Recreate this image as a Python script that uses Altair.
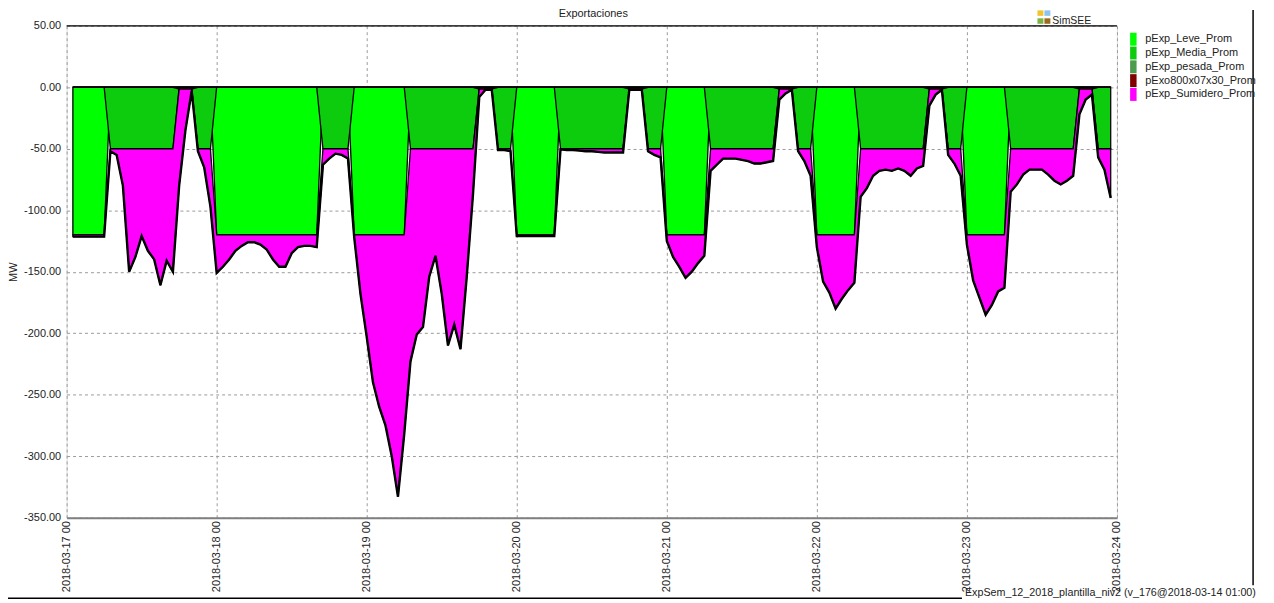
import altair as alt
import pandas as pd

# ---------------- data (hourly, 2018-03-17 01:00 .. 2018-03-23 23:00)
hours = list(range(1, 168))

x_labels = ["2018-03-17 00", "2018-03-18 00", "2018-03-19 00", "2018-03-20 00",
            "2018-03-21 00", "2018-03-22 00", "2018-03-23 00", "2018-03-24 00"]
x_ticks = [0, 24, 48, 72, 96, 120, 144, 168]
y_ticks = [50, 0, -50, -100, -150, -200, -250, -300, -350]

series = ["pExp_Leve_Prom", "pExp_Media_Prom", "pExp_pesada_Prom",
          "pExo800x07x30_Prom", "pExp_Sumidero_Prom"]
colors = ["#00FF00", "#0DCC0D", "#4C9A4C", "#800000", "#FF00FF"]

leve = (
    [-120, -120, -120, -120, -120, -120, 0, 0, 0, 0, 0, 0, 0, 0, 0, 0, 0, 0, 0, 0, 0, 0, 0]
    + [-120, -120, -120, -120, -120, -120, -120, -120, -120, -120, -120, -120, -120, -120, -120, -120, -120, 0, 0, 0, 0, 0, -120, -120]
    + [-120, -120, -120, -120, -120, -120, -120, 0, 0, 0, 0, 0, 0, 0, 0, 0, 0, 0, 0, 0, 0, 0, 0, 0]
    + [-120, -120, -120, -120, -120, -120, -120, 0, 0, 0, 0, 0, 0, 0, 0, 0, 0, 0, 0, 0, 0, 0, 0, 0]
    + [-120, -120, -120, -120, -120, -120, -120, 0, 0, 0, 0, 0, 0, 0, 0, 0, 0, 0, 0, 0, 0, 0, 0, 0]
    + [-120, -120, -120, -120, -120, -120, -120, 0, 0, 0, 0, 0, 0, 0, 0, 0, 0, 0, 0, 0, 0, 0, 0, 0]
    + [-120, -120, -120, -120, -120, -120, -120, 0, 0, 0, 0, 0, 0, 0, 0, 0, 0, 0, 0, 0, 0, 0, 0, 0]
)
media = (
    [0, 0, 0, 0, 0, 0, -50, -50, -50, -50, -50, -50, -50, -50, -50, -50, -50, 0, 0, 0, -50, -50, -50]
    + [0, 0, 0, 0, 0, 0, 0, 0, 0, 0, 0, 0, 0, 0, 0, 0, 0, -50, -50, -50, -50, -50, 0, 0]
    + [0, 0, 0, 0, 0, 0, 0, -50, -50, -50, -50, -50, -50, -50, -50, -50, -50, -50, 0, 0, 0, -50, -50, -50]
    + [0, 0, 0, 0, 0, 0, 0, -50, -50, -50, -50, -50, -50, -50, -50, -50, -50, -50, 0, 0, 0, -50, -50, -50]
    + [0, 0, 0, 0, 0, 0, 0, -50, -50, -50, -50, -50, -50, -50, -50, -50, -50, -50, 0, 0, 0, -50, -50, -50]
    + [0, 0, 0, 0, 0, 0, 0, -50, -50, -50, -50, -50, -50, -50, -50, -50, -50, -50, 0, 0, 0, -50, -50, -50]
    + [0, 0, 0, 0, 0, 0, 0, -50, -50, -50, -50, -50, -50, -50, -50, -50, -50, -50, 0, 0, 0, -50, -50, -50]
)
pesada = (
    [0, 0, 0, 0, 0, 0, 0, 0, 0, 0, 0, 0, 0, 0, 0, 0, 0, 0, 0, 0, 0, 0, 0]
    + [0, 0, 0, 0, 0, 0, 0, 0, 0, 0, 0, 0, 0, 0, 0, 0, 0, 0, 0, 0, 0, 0, 0, 0]
    + [0, 0, 0, 0, 0, 0, 0, 0, 0, 0, 0, 0, 0, 0, 0, 0, 0, 0, 0, 0, 0, 0, 0, 0]
    + [0, 0, 0, 0, 0, 0, 0, 0, 0, 0, 0, 0, 0, 0, 0, 0, 0, 0, 0, 0, 0, 0, 0, 0]
    + [0, 0, 0, 0, 0, 0, 0, 0, 0, 0, 0, 0, 0, 0, 0, 0, 0, 0, 0, 0, 0, 0, 0, 0]
    + [0, 0, 0, 0, 0, 0, 0, 0, 0, 0, 0, 0, 0, 0, 0, 0, 0, 0, 0, 0, 0, 0, 0, 0]
    + [0, 0, 0, 0, 0, 0, 0, 0, 0, 0, 0, 0, 0, 0, 0, 0, 0, 0, 0, 0, 0, 0, 0, 0]
)
pexo = (
    [0, 0, 0, 0, 0, 0, 0, 0, 0, 0, 0, 0, 0, 0, 0, 0, 0, -1.5, -1.5, -1.5, 0, 0, 0]
    + [0, 0, 0, 0, 0, 0, 0, 0, 0, 0, 0, 0, 0, 0, 0, 0, 0, 0, 0, 0, 0, 0, 0, 0]
    + [0, 0, 0, 0, 0, 0, 0, 0, 0, 0, 0, 0, 0, 0, 0, 0, 0, 0, -1.5, -1.5, -1.5, 0, 0, 0]
    + [0, 0, 0, 0, 0, 0, 0, 0, 0, 0, 0, 0, 0, 0, 0, 0, 0, 0, -1.5, -1.5, -1.5, 0, 0, 0]
    + [0, 0, 0, 0, 0, 0, 0, 0, 0, 0, 0, 0, 0, 0, 0, 0, 0, 0, -1.5, -1.5, -1.5, 0, 0, 0]
    + [0, 0, 0, 0, 0, 0, 0, 0, 0, 0, 0, 0, 0, 0, 0, 0, 0, 0, -1.5, -1.5, -1.5, 0, 0, 0]
    + [0, 0, 0, 0, 0, 0, 0, 0, 0, 0, 0, 0, 0, 0, 0, 0, 0, 0, -1.5, -1.5, -1.5, 0, 0, 0]
)
sumidero = (
    [-1.5, -1.5, -1.5, -1.5, -1.5, -1.5, -2, -5, -30, -100, -88, -71, -83, -90, -111, -91, -100,
     -78.5, -33.5, -1.5, -2, -15, -47]
    + [-31, -26, -20, -13, -9, -6, -6, -8, -12, -20, -26, -26, -15, -10, -9, -9, -10,
       -13, -8, -4, -5, -8, -2, -48]
    + [-83, -120, -140, -155, -180, -213, -162, -173, -151, -145, -104, -87, -118, -160, -143, -163,
       -104, -37, -6.5, -0.5, -0.5, -1, -1, -2]
    + [-1, -1, -1, -1, -1, -1, -1, -0.5, -1, -1, -1.5, -2, -2, -2.5, -3, -3, -3, -3,
       -0.5, -0.5, -0.5, -2, -5, -7]
    + [-5, -18, -26, -35, -30, -23, -17, -18, -13, -8, -8, -8, -9, -10, -12, -12, -11, -10,
       -8.5, -3.5, -0.5, -2, -10, -22]
    + [-10, -38, -47, -60, -52, -45, -39, -39, -32, -22, -18, -17, -18, -16, -18, -22, -16, -14,
       -13.5, -4.5, -0.5, -5, -12, -22]
    + [-8, -37, -51, -65, -57, -46, -43, -35, -29, -21, -17, -17, -17, -21, -26, -29, -26, -22,
       -20.5, -8.5, -4.5, -7, -17, -40]
)

# ---------------- tables
cols = [leve, media, pesada, pexo, sumidero]
rows = []
for k, (name, vals) in enumerate(zip(series, cols)):
    for h, v in zip(hours, vals):
        rows.append({"h": h, "serie": name, "v": v, "k": k})
df = pd.DataFrame(rows)
tot = pd.DataFrame({"h": hours, "total": [sum(t) for t in zip(*cols)]})

W, H = 1057, 495
FONT = "Liberation Sans"
xs = alt.Scale(domain=[0, 168], nice=False, zero=False)
ys = alt.Scale(domain=[-350, 50], nice=False, zero=False)

label_expr = "[" + ",".join("'%s'" % s for s in x_labels) + "][round(datum.value/24)]"

areas = alt.Chart(df).mark_area(stroke="black", strokeWidth=1.3, interpolate="linear", clip=True).encode(
    x=alt.X("h:Q", scale=xs, axis=alt.Axis(
        values=x_ticks, labelExpr=label_expr, title=None, labelAngle=270,
        labelAlign="right", labelBaseline="middle", labelFlush=False, labelOverlap=False,
        grid=True, gridDash=[3, 3], gridColor="#9a9a9a", gridWidth=1,
        domainColor="#808080", domainWidth=2, ticks=False, labelPadding=3,
        labelFont=FONT, labelFontSize=11, labelColor="#222222")),
    y=alt.Y("v:Q", stack="zero", scale=ys, axis=alt.Axis(
        values=y_ticks, labelExpr="(datum.value<0?'-':'')+format(abs(datum.value),'.2f')",
        title="MW", titleFont=FONT, titleFontSize=11, titleFontWeight="normal",
        titleColor="#222222", titlePadding=5,
        grid=True, gridDash=[3, 3], gridColor="#9a9a9a", gridWidth=1,
        domain=False, ticks=False, labelPadding=6,
        labelFont=FONT, labelFontSize=11, labelColor="#222222")),
    color=alt.Color("serie:N", scale=alt.Scale(domain=series, range=colors),
                    legend=alt.Legend(title=None, orient="none", legendX=1067, legendY=7,
                                      symbolType="M-0.5,-1H0.5V1H-0.5Z", symbolSize=169,
                                      symbolStrokeWidth=0, rowPadding=0.9, padding=0,
                                      labelFont=FONT, labelFontSize=11, labelOffset=5.5,
                                      labelColor="#222222")),
    order=alt.Order("k:Q"),
)

total_line = alt.Chart(tot).mark_line(color="black", strokeWidth=2.4, clip=True).encode(
    x=alt.X("h:Q", scale=xs), y=alt.Y("total:Q", scale=ys)
)

top_rule = alt.Chart(pd.DataFrame({"a": [0]})).mark_rule(color="black", strokeWidth=1.3).encode(
    x=alt.value(0), x2=alt.value(W), y=alt.value(0))
frame_bottom = alt.Chart(pd.DataFrame({"a": [0]})).mark_rule(color="black", strokeWidth=1.5).encode(
    x=alt.value(-59), x2=alt.value(901), y=alt.value(576))
frame_right = alt.Chart(pd.DataFrame({"a": [0]})).mark_rule(color="black", strokeWidth=1.5).encode(
    x=alt.value(1194), y=alt.value(-16), y2=alt.value(563))


def text_layer(txt, x, y, size, align="left", baseline="alphabetic"):
    return alt.Chart(pd.DataFrame({"t": [txt]})).mark_text(
        font=FONT, fontSize=size, color="#222222", align=align, baseline=baseline
    ).encode(text="t:N", x=alt.value(x), y=alt.value(y))


title = text_layer("Exportaciones", 530, -9, 11, align="center")
simsee = text_layer("SimSEE", 992, -2, 10.5)
footer = text_layer("ExpSem_12_2018_plantilla_niv2 (v_176@2018-03-14 01:00)", 904, 574, 10.8)


def logo_sq(x, y, c):
    return alt.Chart(pd.DataFrame({"a": [0]})).mark_rect(color=c).encode(
        x=alt.value(x), x2=alt.value(x + 6), y=alt.value(y), y2=alt.value(y + 5.5))


logo = [logo_sq(977, -15.5, "#F2C230"), logo_sq(984, -15.5, "#8CC4EE"),
        logo_sq(977, -7.5, "#7CB342"), logo_sq(984, -7.5, "#9C6A1E")]

chart = alt.layer(areas, total_line, top_rule, frame_bottom, frame_right,
                  title, simsee, footer, *logo).properties(
    width=W, height=H,
    padding={"left": 59, "top": 16, "right": 150, "bottom": 84},
    autosize=alt.AutoSizeParams(type="none"),
    background="white",
).configure_view(stroke=None).configure(font=FONT)

chart.save("out.html", embed_options={"renderer": "svg", "actions": False})
